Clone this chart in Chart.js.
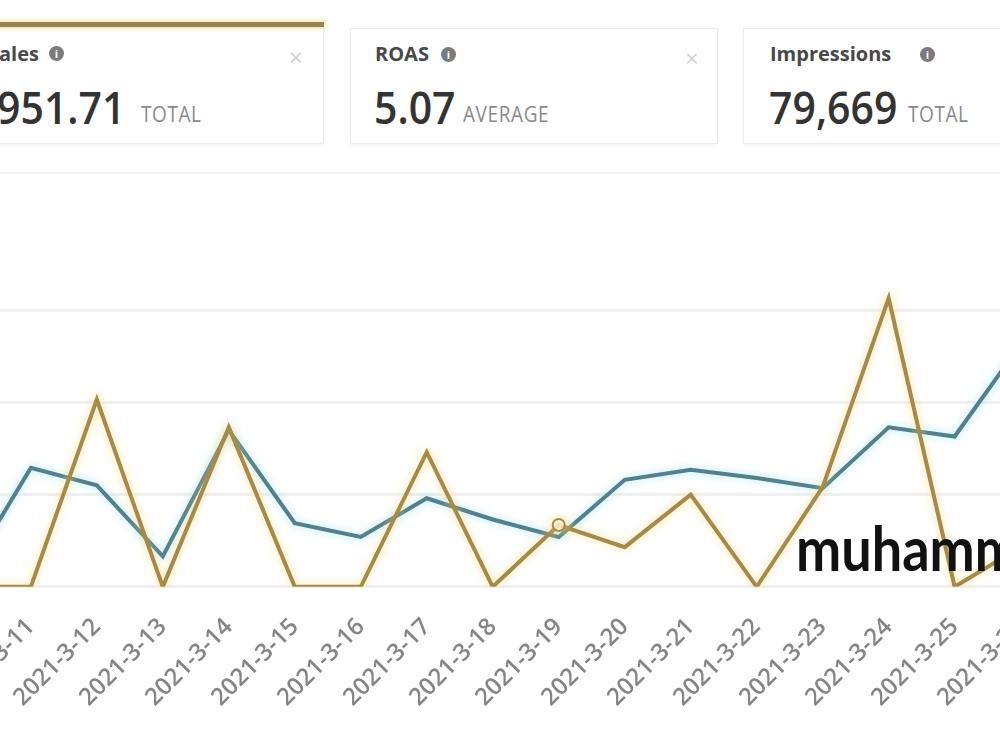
<!DOCTYPE html>
<html><head><meta charset="utf-8">
<script src="https://cdn.jsdelivr.net/npm/chart.js@4.4.0/dist/chart.umd.min.js"></script>
<style>
html,body{margin:0;padding:0;background:#fff;}
body{width:1000px;height:751px;overflow:hidden;position:relative;font-family:"Open Sans",sans-serif;}
.card{position:absolute;top:28px;height:116px;background:#fff;border:1px solid #ececec;box-shadow:0 1px 4px rgba(0,0,0,0.05);box-sizing:border-box;}
.bar{position:absolute;left:-20px;width:344px;top:22px;height:5px;background:#9a8450;box-shadow:0 0 5px 2px rgba(245,215,150,0.6);}
.t{position:absolute;font-weight:700;font-size:20px;color:#484848;line-height:1;white-space:nowrap;}
.v{position:absolute;font-weight:600;font-size:41px;color:#333;line-height:1;white-space:nowrap;transform:scaleY(1.08);transform-origin:0 36px;}
.s{position:absolute;font-weight:400;font-size:19px;letter-spacing:0.6px;color:#8a8a8a;line-height:1;white-space:nowrap;transform:scaleY(1.1);transform-origin:0 17px;}
.i{position:absolute;width:15px;height:15px;border-radius:50%;background:#7a7a7a;color:#fff;font-size:11px;font-weight:700;text-align:center;line-height:15px;}
.x{position:absolute;font-size:24px;color:#cfcfcf;line-height:1;}
.sep{position:absolute;left:0;width:1000px;top:172px;height:2px;background:#f1f1f1;}
#wrap{position:absolute;left:0;top:0;}
.wm{position:absolute;left:796px;top:524px;font-family:Lato,sans-serif;font-weight:700;font-size:54px;color:#111;line-height:1;white-space:nowrap;z-index:5;transform:scaleY(1.15);transform-origin:0 48px;}
</style></head>
<body>
<div class="card" style="left:-20px;width:344px;top:27px;height:117px;"></div>
<div class="bar"></div>
<div class="card" style="left:350px;width:368px;"></div>
<div class="card" style="left:743px;width:300px;"></div>

<div class="t" style="left:-12px;top:44px;">Sales</div>
<div class="i" style="left:49px;top:46px;">i</div>
<div class="x" style="left:289px;top:45px;">×</div>
<div class="v" style="left:-3px;top:88px;">951.71</div>
<div class="s" style="left:141px;top:106px;">TOTAL</div>

<div class="t" style="left:375px;top:44px;">ROAS</div>
<div class="i" style="left:441px;top:47px;">i</div>
<div class="x" style="left:685px;top:46px;">×</div>
<div class="v" style="left:374px;top:88px;">5.07</div>
<div class="s" style="left:463px;top:106px;">AVERAGE</div>

<div class="t" style="left:770px;top:44px;">Impressions</div>
<div class="i" style="left:920px;top:47px;">i</div>
<div class="v" style="left:769px;top:88px;">79,669</div>
<div class="s" style="left:908px;top:106px;">TOTAL</div>

<div class="sep"></div>
<div id="wrap"><canvas id="c"></canvas></div>
<div class="wm">muhammad</div>

<script>
// ---- data ----
const dateLabels = ['2021-3-10','2021-3-11','2021-3-12','2021-3-13','2021-3-14','2021-3-15','2021-3-16','2021-3-17','2021-3-18','2021-3-19','2021-3-20','2021-3-21','2021-3-22','2021-3-23','2021-3-24','2021-3-25','2021-3-26'];
const salesValues = [0, 0, 2.03, 0, 1.73, 0, 0, 1.46, 0, 0.67, 0.43, 1.0, 0, 1.08, 3.13, 0, 0.43];
const secondValues = [0.1, 1.29, 1.1, 0.33, 1.7, 0.69, 0.54, 0.96, 0.73, 0.54, 1.16, 1.27, 1.18, 1.07, 1.73, 1.63, 2.63];
const yTickValues = [0, 1, 2, 3, 4];

// target layout (page pixels)
const TARGET = {xFirst: -35, xLast: 1021, yZero: 587, yTop: 218};

const glow = {
  id: 'glow',
  beforeDatasetDraw(chart, args) {
    const ctx = chart.ctx; ctx.save();
    const ds = chart.data.datasets[args.index];
    ctx.shadowColor = ds.glowColor; ctx.shadowBlur = 8;
  },
  afterDatasetDraw(chart) { chart.ctx.restore(); }
};

function makeChart(canvas) {
  return new Chart(canvas, {
    type: 'line',
    data: {
      labels: dateLabels,
      datasets: [
        {label: 'Sales', data: salesValues, borderColor: '#a68a4c', glowColor: 'rgba(255,215,110,0.75)', borderWidth: 4, tension: 0, fill: false,
         pointRadius: salesValues.map((v, i) => i === 9 ? 6 : 0), pointBackgroundColor: 'rgba(255,255,255,0.7)', pointBorderColor: '#a68a4c', pointBorderWidth: 2},
        {label: 'Second metric', data: secondValues, borderColor: '#52808c', glowColor: 'rgba(150,225,245,0.8)', borderWidth: 4, tension: 0, fill: false, pointRadius: 0}
      ]
    },
    options: {
      responsive: false, animation: false, devicePixelRatio: 1,
      layout: {padding: {top: 4, left: 0, right: 0, bottom: 0}},
      plugins: {legend: {display: false}, tooltip: {enabled: false}},
      scales: {
        x: {
          offset: false,
          border: {display: false},
          grid: {display: false, drawTicks: false},
          ticks: {autoSkip: false, minRotation: 45, maxRotation: 45, padding: 26, color: '#858585',
                  font: {family: 'Open Sans', size: 24, weight: '600'}}
        },
        y: {
          display: true, min: yTickValues[0], max: yTickValues[yTickValues.length - 1],
          afterBuildTicks: (s) => { s.ticks = yTickValues.map(v => ({value: v})); },
          border: {display: false},
          grid: {color: (c) => c.tick && c.tick.value === yTickValues[yTickValues.length - 1] ? 'rgba(0,0,0,0)' : '#f0f0f0', lineWidth: 3, drawTicks: false},
          ticks: {display: false}
        }
      }
    },
    plugins: [glow]
  });
}

const wrap = document.getElementById('wrap');
let canvas = document.getElementById('c');
let W = 1150, H = 580;
let chart;
for (let pass = 0; pass < 3; pass++) {
  if (chart) chart.destroy();
  canvas.width = W; canvas.height = H;
  canvas.style.width = W + 'px'; canvas.style.height = H + 'px';
  chart = makeChart(canvas);
  const xs = chart.scales.x, ys = chart.scales.y;
  const x0 = xs.getPixelForValue(0), xN = xs.getPixelForValue(dateLabels.length - 1);
  const y0 = ys.getPixelForValue(yTickValues[0]), yT = ys.getPixelForValue(yTickValues[yTickValues.length - 1]);
  W = Math.round(W + (TARGET.xLast - TARGET.xFirst) - (xN - x0));
  H = Math.round(H + (TARGET.yZero - TARGET.yTop) - (y0 - yT));
  wrap.style.left = (TARGET.xFirst - x0) + 'px';
  wrap.style.top = (TARGET.yZero - y0) + 'px';
}
</script>
</body></html>
